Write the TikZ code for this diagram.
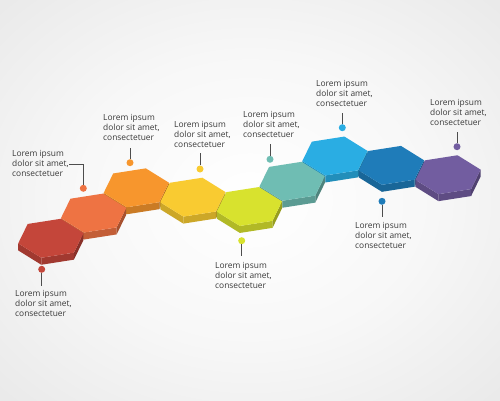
\documentclass[tikz,border=0pt]{standalone}
\usepackage{fontspec}
\setmainfont{Open Sans}
\definecolor{c1}{HTML}{C4463A}
\definecolor{c2}{HTML}{EE7343}
\definecolor{c3}{HTML}{F7962D}
\definecolor{c4}{HTML}{F9CB31}
\definecolor{c5}{HTML}{D8E22E}
\definecolor{c6}{HTML}{6FBDB3}
\definecolor{c7}{HTML}{2AADE3}
\definecolor{c8}{HTML}{1F7CB9}
\definecolor{c9}{HTML}{725DA0}
\definecolor{txt}{HTML}{3A3A3A}
\definecolor{lead}{HTML}{4D4D4D}
\pgfdeclareradialshading{bgshade}{\pgfpoint{0bp}{0bp}}{color(0bp)=(white); color(18bp)=(white!97!black); color(50bp)=(white!87!black); color(72bp)=(white!84!black)}
\newcommand\hexcell[2]{%
\begin{scope}[shift={(#1)}]
\fill[#2!82!black] (-32.6,5.1) -- (-9.5,19.45) -- (-9.5,26.45) -- (-32.6,12.1) -- cycle;
\fill[#2!82!black] (-9.5,19.45) -- (23.1,14.35) -- (23.1,21.35) -- (-9.5,26.45) -- cycle;
\fill[#2!70!black] (23.1,14.35) -- (32.6,-5.1) -- (32.6,1.9) -- (23.1,21.35) -- cycle;
\fill[#2] (32.6,-5.1) -- (9.5,-19.45) -- (-23.1,-14.35) -- (-32.6,5.1) -- (-9.5,19.45) -- (23.1,14.35) -- cycle;
\end{scope}}
\begin{document}
\begin{tikzpicture}[x=1pt,y=-1pt,
  lbl/.style={font=\fontsize{8.4}{9.7}\selectfont, text=txt, align=left, inner sep=0pt, anchor=north west},
  dotmark/.style={circle, inner sep=0pt, minimum size=7pt, fill=#1},
  leadline/.style={draw=lead, line width=0.9pt}]
\useasboundingbox (0,0) rectangle (500,400);
\shade[shading=bgshade] (0,0) rectangle (500,400);
% hexagon centres
\coordinate (h1) at (50.8,238.3);
\coordinate (h2) at (93.55,213.05);
\coordinate (h3) at (136.3,187.8);
\coordinate (h4) at (192.85,197.15);
\coordinate (h5) at (249.4,206.5);
\coordinate (h6) at (292.15,181.25);
\coordinate (h7) at (334.9,156);
\coordinate (h8) at (391.45,165.35);
\coordinate (h9) at (448,174.7);
% back to front
\hexcell{h3}{c3}
\hexcell{h7}{c7}
\hexcell{h2}{c2}
\hexcell{h4}{c4}
\hexcell{h6}{c6}
\hexcell{h8}{c8}
\hexcell{h1}{c1}
\hexcell{h5}{c5}
\hexcell{h9}{c9}
% labels
\node[dotmark=c1] (d1) at (41.7,269.3) {};
\coordinate (e1) at (41.7,286);
\draw[leadline] (d1) -- (e1);
\node[lbl] (t1) at (15,290.5) {Lorem ipsum\\dolor sit amet,\\consectetuer};

\node[dotmark=c2] (d2) at (83.3,188.3) {};
\coordinate (e2) at (69,164.3);
\draw[leadline] (d2) |- (e2);
\node[lbl] (t2) at (12,150.5) {Lorem ipsum\\dolor sit amet,\\consectetuer};

\node[dotmark=c3] (d3) at (130,162.7) {};
\coordinate (e3) at (130,148);
\draw[leadline] (d3) -- (e3);
\node[lbl] (t3) at (103,114.5) {Lorem ipsum\\dolor sit amet,\\consectetuer};

\node[dotmark=c4] (d4) at (200,169) {};
\coordinate (e4) at (200,153);
\draw[leadline] (d4) -- (e4);
\node[lbl] (t4) at (174,121.5) {Lorem ipsum\\dolor sit amet,\\consectetuer};

\node[dotmark=c5] (d5) at (241.7,240.7) {};
\coordinate (e5) at (241.7,256);
\draw[leadline] (d5) -- (e5);
\node[lbl] (t5) at (215,262.5) {Lorem ipsum\\dolor sit amet,\\consectetuer};

\node[dotmark=c6] (d6) at (270,159.3) {};
\coordinate (e6) at (270,144);
\draw[leadline] (d6) -- (e6);
\node[lbl] (t6) at (243,111.5) {Lorem ipsum\\dolor sit amet,\\consectetuer};

\node[dotmark=c7] (d7) at (342.3,127.7) {};
\coordinate (e7) at (342.3,113);
\draw[leadline] (d7) -- (e7);
\node[lbl] (t7) at (316,80.5) {Lorem ipsum\\dolor sit amet,\\consectetuer};

\node[dotmark=c8] (d8) at (382,201.3) {};
\coordinate (e8) at (382,217);
\draw[leadline] (d8) -- (e8);
\node[lbl] (t8) at (355,222.5) {Lorem ipsum\\dolor sit amet,\\consectetuer};

\node[dotmark=c9] (d9) at (457,146.7) {};
\coordinate (e9) at (457,132);
\draw[leadline] (d9) -- (e9);
\node[lbl] (t9) at (430,99.5) {Lorem ipsum\\dolor sit amet,\\consectetuer};
\end{tikzpicture}
\end{document}
